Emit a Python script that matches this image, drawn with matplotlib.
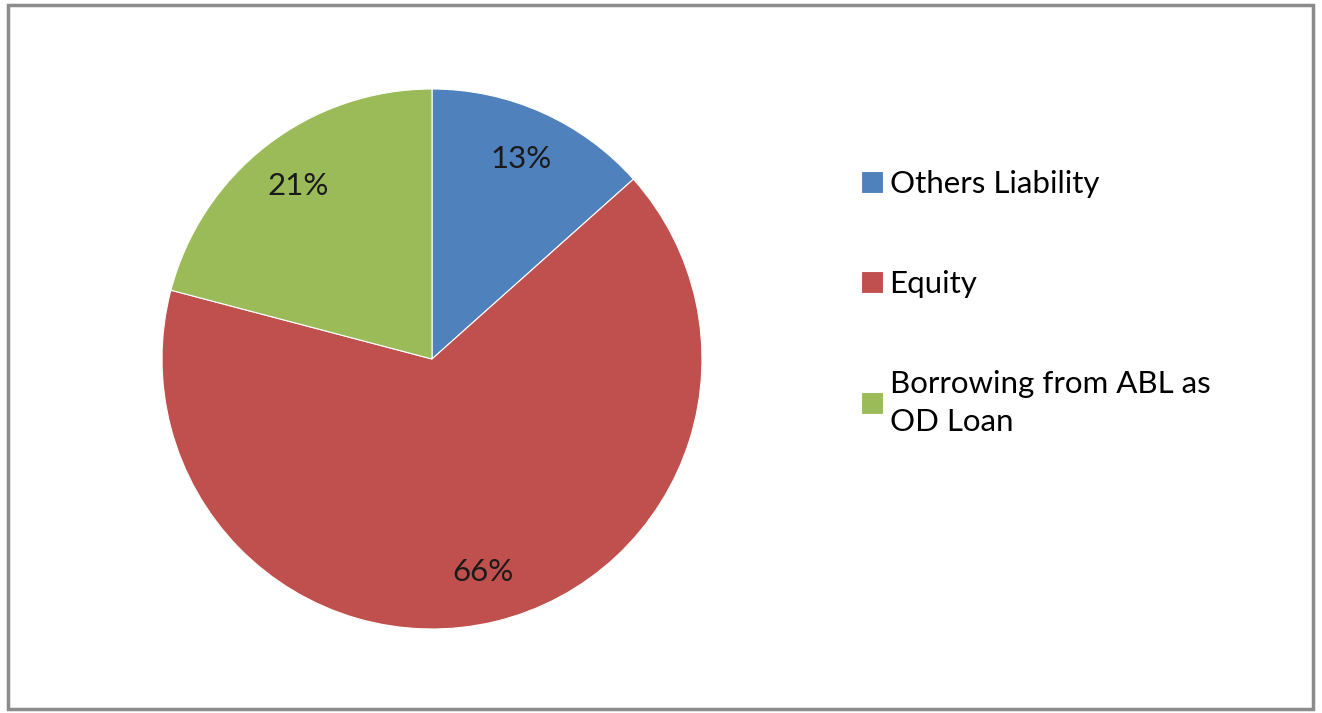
import matplotlib.pyplot as plt
from matplotlib.patches import Rectangle

labels = ['Others Liability', 'Equity', 'Borrowing from ABL as\nOD Loan']
values = [13.4, 65.7, 20.9]
colors = ['#4F81BD', '#C0504D', '#9BBB59']

plt.rcParams['font.family'] = ['Lato', 'DejaVu Sans']

W, H = 1322, 713
fig = plt.figure(figsize=(W / 100, H / 100), dpi=100)

# border around the chart area
fig.patches.append(Rectangle((8 / W, 4 / H), 1305 / W, 704 / H, transform=fig.transFigure,
                             fill=False, edgecolor='#8c8c8c', linewidth=2.5))

ax = fig.add_axes([162 / W, 84 / H, 540 / W, 540 / H])
wedges, texts, autotexts = ax.pie(values, colors=colors, startangle=90, counterclock=False,
                                  autopct='%.0f%%', pctdistance=0.81, radius=1,
                                  wedgeprops=dict(edgecolor='white', linewidth=0.8),
                                  textprops=dict(fontsize=22.5, color='#1a1a1a'))
ax.set_xlim(-1, 1)
ax.set_ylim(-1, 1)
ax.set_aspect('equal')

leg = fig.legend(wedges, labels, loc='upper left', bbox_to_anchor=(839 / W, 1 - 148 / H),
                 frameon=False, fontsize=22.5, handlelength=0.7, handleheight=0.7,
                 handletextpad=0.22, labelspacing=2.3, borderpad=0.2)
for t in leg.get_texts():
    t.set_linespacing(1.45)

fig.savefig('out.png', dpi=100)
